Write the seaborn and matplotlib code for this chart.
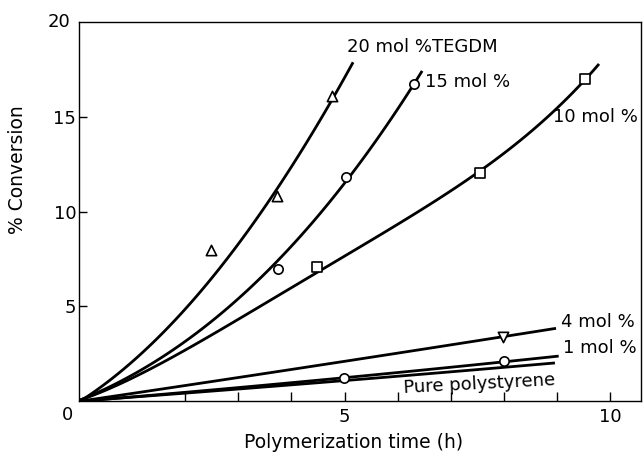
import matplotlib
matplotlib.use("Agg")
import matplotlib.pyplot as plt
import seaborn as sns
import numpy as np

# Measured conversions (markers)
t_20 = [2.49, 3.72, 4.76]
c_20 = [7.99, 10.81, 16.1]
t_15 = [3.75, 5.03, 6.31]
c_15 = [6.98, 11.85, 16.77]
t_10 = [4.48, 7.55, 9.53]
c_10 = [7.09, 12.06, 17.04]
t_4 = [7.98]
c_4 = [3.39]
t_1 = [4.98, 8.0]
c_1 = [1.2, 2.13]

# Points along the smooth kinetic curves
curve_t_20 = [0.0, 1.24, 1.86, 2.49, 3.31, 3.63, 4.26, 5.16]
curve_c_20 = [0.0, 2.54, 4.29, 6.77, 9.58, 10.8, 13.28, 18.0]
curve_t_15 = [0.0, 1.24, 2.49, 2.98, 3.75, 5.03, 5.48, 6.46]
curve_c_15 = [0.0, 1.8, 4.29, 5.34, 7.2, 11.85, 13.28, 17.4]
curve_t_10 = [0.0, 1.24, 2.49, 3.6, 3.75, 4.48, 5.79, 7.55, 8.3, 9.53, 9.79]
curve_c_10 = [0.0, 1.64, 3.39, 5.34, 5.5, 6.84, 9.05, 12.06, 13.8, 17.0, 17.8]
curve_t_4 = [0.0, 3.22, 3.75, 6.61, 7.98, 8.98]
curve_c_4 = [0.0, 1.29, 1.55, 2.86, 3.40, 3.81]
curve_t_1 = [0.0, 3.22, 4.98, 6.61, 8.0, 9.03]
curve_c_1 = [0.0, 0.72, 1.2, 1.73, 2.13, 2.31]
curve_t_ps = [0.0, 4.98, 6.61, 8.96]
curve_c_ps = [0.0, 1.02, 1.52, 1.99]

labels = ["20 mol %TEGDM", "15 mol %", "10 mol %", "4 mol %", "1 mol %",
          "Pure polystyrene"]
x_ticks = [0, 5, 10]
y_ticks = [5, 10, 15, 20]

sns.set_style("ticks")
plt.rcParams["font.family"] = ["DejaVu Sans"]
plt.rcParams.update({
    "text.color": "black",
    "axes.labelcolor": "black",
    "xtick.color": "black",
    "ytick.color": "black",
    "axes.edgecolor": "black",
})

fig = plt.figure(figsize=(6.43, 4.53), dpi=100)
ax = fig.add_axes([79 / 643, 1 - 401 / 453, 562 / 643, 378.5 / 453])

line_kw = dict(color="black", lw=2.0, solid_capstyle="butt")
curves = [
    (curve_t_20, curve_c_20, 3),
    (curve_t_15, curve_c_15, 3),
    (curve_t_10, curve_c_10, 4),
    (curve_t_4, curve_c_4, 2),
    (curve_t_1, curve_c_1, 2),
    (curve_t_ps, curve_c_ps, 2),
]
for xs, ys, order in curves:
    sns.regplot(x=xs, y=ys, order=order, ci=None, scatter=False,
                truncate=True, ax=ax, line_kws=line_kw)

mk = dict(color="white", edgecolor="black", linewidth=1.2, zorder=5, ax=ax,
          legend=False)
sns.scatterplot(x=t_20, y=c_20, marker="^", s=55, **mk)
sns.scatterplot(x=t_15, y=c_15, marker="o", s=45, **mk)
sns.scatterplot(x=t_10, y=c_10, marker="s", s=60, **mk)
sns.scatterplot(x=t_4, y=c_4, marker="v", s=55, **mk)
sns.scatterplot(x=t_1, y=c_1, marker="o", s=45, **mk)

ax.set_xlim(0, 10.58)
ax.set_ylim(0, 20)

ax.set_xticks(x_ticks[1:])
ax.set_xticks([2, 3, 4, 6, 7, 8, 9], minor=True)
ax.set_yticks(y_ticks[:-1])
ax.set_yticklabels([str(v) for v in y_ticks[:-1]])
ax.set_xticklabels([str(v) for v in x_ticks[1:]])
ax.tick_params(axis="x", which="both", direction="in", length=6.5,
               width=1.0, pad=5, labelsize=13)
ax.tick_params(axis="y", which="both", direction="in", length=6,
               width=1.0, pad=2, labelsize=13)
ax.text(-11 / 53.1, -14 / 18.9, str(x_ticks[0]), fontsize=13,
        ha="center", va="center")
ax.text(-20 / 53.1, 20, str(y_ticks[-1]), fontsize=13,
        ha="center", va="center")

for side in ["top", "right", "bottom", "left"]:
    ax.spines[side].set_visible(True)
    ax.spines[side].set_linewidth(1.0)
    ax.spines[side].set_color("black")

ax.set_xlabel("Polymerization time (h)", fontsize=13.5)
ax.set_ylabel("% Conversion", fontsize=13.5)
ax.xaxis.set_label_coords(0.488, -0.085)
ax.yaxis.set_label_coords(-0.092, 0.61)

txt = dict(fontsize=13, va="center", ha="left")
ax.text(5.05, 18.73, labels[0], **txt)
ax.text(6.52, 16.88, labels[1], **txt)
ax.text(8.93, 15.03, labels[2], **txt)
ax.text(9.08, 4.18, labels[3], **txt)
ax.text(9.11, 2.80, labels[4], **txt)
ax.text(7.53, 0.9, labels[5], fontsize=13, va="center", ha="center",
        rotation=3, rotation_mode="anchor")

fig.savefig("out.png", dpi=100)
